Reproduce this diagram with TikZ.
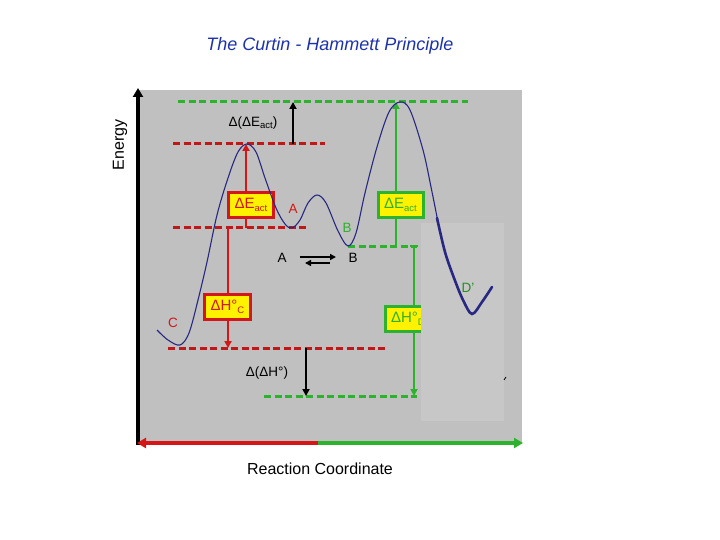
\documentclass[tikz,border=0pt]{standalone}
\usepackage{fontspec}
\setmainfont{Liberation Sans}
\usetikzlibrary{arrows.meta}
\definecolor{bggray}{RGB}{192,192,192}
\definecolor{lightgray2}{RGB}{199,199,199}
\definecolor{dred}{RGB}{192,24,24}
\definecolor{bred}{RGB}{212,22,22}
\definecolor{dgreen}{RGB}{44,178,44}
\definecolor{curveblue}{RGB}{40,40,130}
\definecolor{titleblue}{RGB}{30,50,170}
\newcommand{\subtxt}[1]{\raisebox{-0.35ex}{\fontsize{9.5}{9.5}\selectfont #1}}
\begin{document}
\begin{tikzpicture}[x=1pt,y=-1pt,
  levelline/.style={line width=3pt, dash pattern=on 7pt off 3.5pt},
  varrow/.style={line width=2pt, -{Triangle[length=7pt,width=7pt]}},
  valbox/.style={draw, line width=3pt, fill=yellow, minimum width=45pt, minimum height=25pt, inner sep=0pt, font=\fontsize{15}{15}\selectfont},
  lbl/.style={font=\fontsize{13.5}{13.5}\selectfont, inner sep=0pt},
  axis/.style={line width=4pt, -{Triangle[length=9pt,width=10pt]}},
  curve/.style={curveblue, line width=1.1pt}
]
\useasboundingbox (0,0) rectangle (720,540);
% background panel
\fill[bggray] (138,90) rectangle (522,443);

% named level coordinates
\coordinate (topL) at (178,102);   \coordinate (topR) at (468,102);
\coordinate (tscL) at (173,144);   \coordinate (tscR) at (325,144);
\coordinate (aL) at (173,228);     \coordinate (aR) at (306,228);
\coordinate (bL) at (348,246);     \coordinate (bR) at (417,246);
\coordinate (cL) at (168,348);     \coordinate (cR) at (385,348);
\coordinate (dL) at (264,396);     \coordinate (dR) at (417,396);

% dashed levels
\draw[levelline, dgreen] (topL) -- (topR);
\draw[levelline, dred] (tscL) -- (tscR);
\draw[levelline, dred] (aL) -- (aR);
\draw[levelline, dgreen] (bL) -- (bR);
\draw[levelline, dred] (cL) -- (cR);
\draw[levelline, dgreen] (dL) -- (dR);

% vertical arrows
\coordinate (ea0) at (246,228); \coordinate (ea1) at (246,144);
\coordinate (eb0) at (396,246); \coordinate (eb1) at (396,102);
\coordinate (hc0) at (228,228); \coordinate (hc1) at (228,348);
\coordinate (hd0) at (414,246); \coordinate (hd1) at (414,396);
\coordinate (dd0) at (293,144); \coordinate (dd1) at (293,102);
\coordinate (dh0) at (306,348); \coordinate (dh1) at (306,396);

\draw[varrow, bred] (ea0) -- (ea1);
\draw[varrow, dgreen] (eb0) -- (eb1);
\draw[varrow, bred] (hc0) -- (hc1);
\draw[varrow, dgreen] (hd0) -- (hd1);
\draw[dgreen, line width=2pt] (410,246) -- (418,246);
\draw[varrow, black] (dd0) -- (dd1);
\draw[varrow, black] (dh0) -- (dh1);

% boxes
\node[valbox, draw=bred, text=bred] (boxEa) at (251,205) {ΔE\subtxt{act}};
\node[valbox, draw=dgreen, text=dgreen] (boxEb) at (400.5,205) {ΔE\subtxt{act}};
\node[valbox, draw=bred, text=bred, minimum width=46pt] (boxHc) at (227.5,306.5) {ΔH°\subtxt{C}};
\node[valbox, draw=dgreen, text=dgreen, minimum width=46pt] (boxHd) at (408,319) {ΔH°\subtxt{D}};

% labels
\node[lbl] (ddE) at (253,123) {Δ(ΔE\subtxt{act})};
\node[lbl] (ddH) at (267,373) {Δ(ΔH°)};
\node[lbl, text=bred] (labA) at (293,209) {A};
\node[lbl, text=dgreen] (labB) at (347,228) {B};
\node[lbl, text=bred] (labC) at (173,323) {C};
\node[lbl] (eqA) at (282,258) {A};
\node[lbl] (eqB) at (353,258) {B};
\coordinate (fw0) at (300,257); \coordinate (fw1) at (336,257);
\coordinate (bw0) at (330,263); \coordinate (bw1) at (305,263);
\draw[line width=1.8pt, -{Triangle[length=6pt,width=6pt]}] (fw0) -- (fw1);
\draw[line width=1.8pt, -{Triangle[length=6pt,width=6pt]}] (bw0) -- (bw1);

% energy curve (thin part)
\draw[curve] plot[smooth, tension=0.55] coordinates {
 (157,330) (168,340) (180,345) (189,333) (198,300) (207,262) (217,215)
 (228,178) (238,152) (247,144) (256,152) (265,178) (276,208) (285,224)
 (292,228) (300,220) (308,203) (317,195) (326,203) (338,231) (348,246)
 (356,233) (365,193) (377,147) (389,112) (400,102) (410,110) (423,150)
 (431,187) (438,222)};

% lighter panel
\fill[lightgray2] (421,223) rectangle (504,421);

% thick part of curve
\draw[curveblue, line width=2.6pt, line cap=round] plot[smooth, tension=0.55] coordinates {
 (437,218) (445,252) (454,278) (463,300) (472,314) (482,302) (492,287)};
\node[lbl, text=dgreen!80!black] (labD) at (468,288) {D'};
\draw[black, line width=0.8pt] (504,380) -- (506,377);

% axes
\coordinate (ytop) at (138,88);
\coordinate (ybot) at (138,445);
\coordinate (xmid) at (318,443);
\coordinate (xl) at (137,443);
\coordinate (xr) at (523,443);
\draw[axis, black] (ybot) -- (ytop);
\draw[axis, bred] (xmid) -- (xl);
\draw[axis, dgreen] (xmid) -- (xr);

% titles
\node[font=\fontsize{18}{18}\selectfont\itshape, text=titleblue] (title) at (330,46) {The Curtin - Hammett Principle};
\node[font=\fontsize{16}{16}\selectfont, rotate=90] (ylab) at (120,145) {Energy};
\node[font=\fontsize{16}{16}\selectfont] (xlab) at (320,469) {Reaction Coordinate};
\end{tikzpicture}
\end{document}
